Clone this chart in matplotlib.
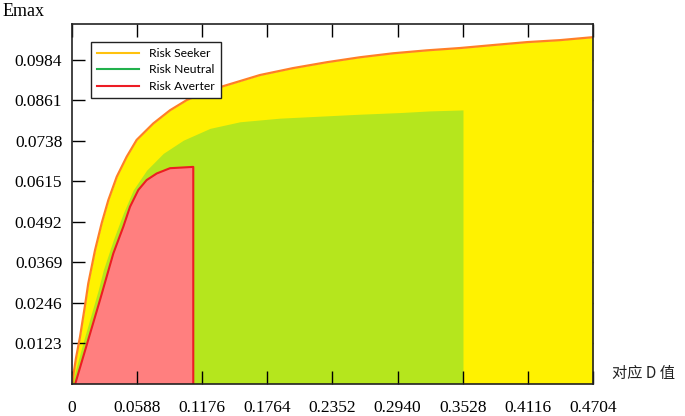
import matplotlib
matplotlib.use("Agg")
import matplotlib.pyplot as plt

# values
seeker_d = [0, 0.0036, 0.0072, 0.0117, 0.0147, 0.0208, 0.0268, 0.0328, 0.0404, 0.0494,
            0.0584, 0.0734, 0.0885, 0.1036, 0.1246, 0.1697, 0.1995, 0.2302, 0.2600,
            0.2898, 0.3205, 0.3503, 0.3801, 0.4108, 0.4406, 0.4704]
seeker_e = [0, 0.0077, 0.0141, 0.0236, 0.0304, 0.0405, 0.0487, 0.0557, 0.0628, 0.0689,
            0.0740, 0.0790, 0.0830, 0.0861, 0.0891, 0.0937, 0.0958, 0.0976, 0.0991,
            0.1003, 0.1012, 0.1019, 0.1028, 0.1037, 0.1043, 0.1052]

neutral_d = [0, 0.0099, 0.0237, 0.0283, 0.0373, 0.0463, 0.0553, 0.0674, 0.0824, 0.1005,
             0.1246, 0.1517, 0.1878, 0.2239, 0.2600, 0.2961, 0.3232, 0.3530]
neutral_e = [0, 0.0123, 0.0284, 0.0345, 0.0436, 0.0517, 0.0588, 0.0648, 0.0699, 0.0739,
             0.0775, 0.0795, 0.0806, 0.0812, 0.0818, 0.0823, 0.0828, 0.0831]

averter_d = [0.0030, 0.0181, 0.0253, 0.0373, 0.0463, 0.0524, 0.0599, 0.0674, 0.0765,
             0.0885, 0.1095]
averter_e = [0, 0.0172, 0.0254, 0.0395, 0.0476, 0.0537, 0.0588, 0.0618, 0.0638,
             0.0654, 0.0658]

xticks = [0, 0.0588, 0.1176, 0.1764, 0.2352, 0.2940, 0.3528, 0.4116, 0.4704]
xlabels = ["0", "0.0588", "0.1176", "0.1764", "0.2352", "0.2940", "0.3528", "0.4116", "0.4704"]
yticks = [0.0123, 0.0246, 0.0369, 0.0492, 0.0615, 0.0738, 0.0861, 0.0984]
ylabels = ["0.0123", "0.0246", "0.0369", "0.0492", "0.0615", "0.0738", "0.0861", "0.0984"]

serif = ["Liberation Serif", "DejaVu Serif"]

fig = plt.figure(figsize=(6.85, 4.16), dpi=100)
pos = [0.1051, 0.0781, 0.7606, 0.8642]

# back axes: only top/right ticks, they get hidden by the fills
axb = fig.add_axes(pos)
axb.set_xlim(0, 0.4704)
axb.set_ylim(0, 0.1092)
axb.set_xticks(xticks)
axb.set_yticks(yticks)
axb.tick_params(direction="in", length=9.5, width=1, top=True, right=True,
                bottom=False, left=False, labelbottom=False, labelleft=False)
for s in axb.spines.values():
    s.set_visible(False)

ax = fig.add_axes(pos)
ax.patch.set_visible(False)
ax.set_zorder(1)
ax.set_xlim(0, 0.4704)
ax.set_ylim(0, 0.1092)

ax.fill_between(seeker_d, seeker_e, 0, color="#FFF200", lw=0)
ax.fill_between(neutral_d, neutral_e, 0, color="#B5E61D", lw=0)
ax.fill_between(averter_d, averter_e, 0, color="#FF7F7F", lw=0)
ax.plot(seeker_d, seeker_e, color="#FF7F27", lw=1.6, solid_joinstyle="round")
ax.plot(averter_d + [averter_d[-1]], averter_e + [0], color="#ED1C24", lw=1.5,
        solid_joinstyle="round")

ax.set_xticks(xticks)
ax.set_xticklabels(xlabels, family=serif, fontsize=12.5)
ax.set_yticks(yticks)
ax.set_yticklabels(ylabels, family=serif, fontsize=12.5)
ax.tick_params(axis="x", direction="in", length=9.5, width=1, pad=12)
ax.tick_params(axis="y", direction="in", length=9.5, width=1, pad=7)
for s in ax.spines.values():
    s.set_linewidth(1.2)
    s.set_color("#222222")

h1, = ax.plot([], [], color="#FFC20E", lw=1.5, label="Risk Seeker")
h2, = ax.plot([], [], color="#22B14C", lw=1.5, label="Risk Neutral")
h3, = ax.plot([], [], color="#ED1C24", lw=1.5, label="Risk Averter")
leg = ax.legend(handles=[h1, h2, h3], loc="upper left", bbox_to_anchor=(0.0365, 0.95),
                borderaxespad=0, fancybox=False, framealpha=1, edgecolor="#222222",
                prop={"family": "Lato", "size": 8.7}, handlelength=3.5,
                labelspacing=0.45, borderpad=0.5, handletextpad=0.8)
leg.get_frame().set_linewidth(1.0)

fig.text(0.004, 0.972, "Emax", family=serif, fontsize=13, va="center", ha="left")
fig.text(0.894, 0.103, "对应 D 值", family=["Noto Sans CJK SC", "DejaVu Sans"],
         fontsize=11, va="center", ha="left", color="#222222")

fig.savefig("out.png", dpi=100)
